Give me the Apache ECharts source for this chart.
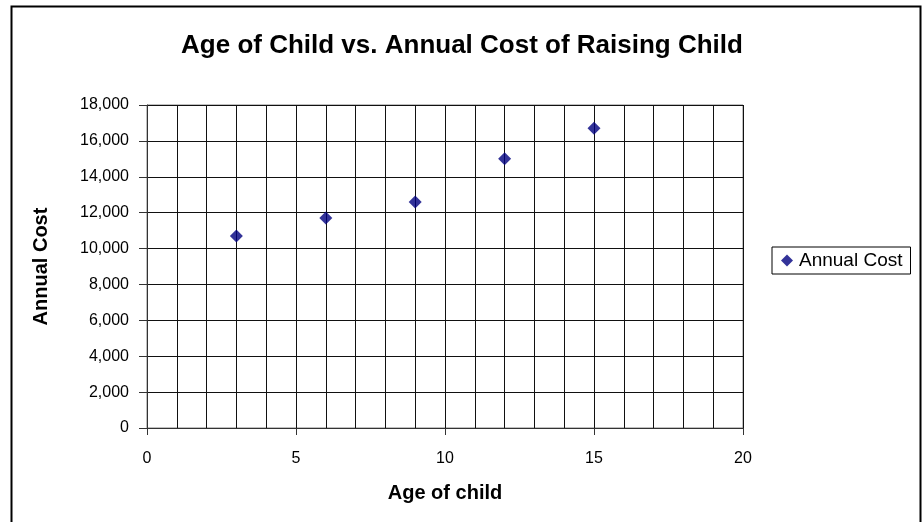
<!DOCTYPE html>
<html>
<head>
<meta charset="utf-8">
<script src="https://cdn.jsdelivr.net/npm/echarts@6/dist/echarts.min.js"></script>
<style>
  html, body { margin: 0; padding: 0; background: #fff; }
  #chart { width: 924px; height: 522px; }
</style>
</head>
<body>
<div id="chart"></div>
<script>
// Age of child (years) and the yearly cost of raising the child
const ages = [3, 6, 9, 12, 15];
const annualCost = [10700, 11700, 12600, 15000, 16700];
const seriesName = 'Annual Cost';
const chartTitle = 'Age of Child vs. Annual Cost of Raising Child';
const xAxisName = 'Age of child';
const yAxisName = 'Annual Cost';

const points = ages.map((a, i) => [a, annualCost[i]]);
const font = 'Liberation Sans, Arial, sans-serif';

const chart = echarts.init(document.getElementById('chart'), null, { renderer: 'canvas' });

chart.setOption({
  backgroundColor: '#fff',
  animation: false,
  textStyle: { fontFamily: font, color: '#000' },
  title: {
    text: chartTitle,
    left: 'center',
    top: 28,
    textStyle: { fontFamily: font, fontSize: 26, fontWeight: 'bold', color: '#000' }
  },
  graphic: [{
    type: 'rect',
    left: 9, top: 4,
    shape: { width: 909, height: 540 },
    style: { fill: 'none', stroke: '#000', lineWidth: 2 },
    silent: true,
    z: 100
  }],
  legend: {
    left: 772,
    top: 247,
    orient: 'vertical',
    padding: [4, 8, 4, 9],
    borderColor: '#000',
    borderWidth: 1,
    itemWidth: 12,
    itemHeight: 12,
    itemGap: 4,
    textStyle: { fontFamily: font, fontSize: 19, color: '#000', padding: [0, 0, 0, 1] },
    data: [{ name: seriesName, icon: 'diamond' }]
  },
  grid: {
    left: 147, right: 181, top: 105, bottom: 94,
    show: true,
    borderColor: '#808080',
    borderWidth: 1
  },
  xAxis: {
    type: 'value',
    min: 0, max: 20, interval: 5,
    name: xAxisName,
    nameLocation: 'middle',
    nameGap: 55,
    nameTextStyle: { fontFamily: font, fontSize: 20, fontWeight: 'bold', color: '#000' },
    axisLine: { show: true, lineStyle: { color: '#333', width: 1 } },
    axisTick: { show: true, inside: false, length: 7, lineStyle: { color: '#333' } },
    axisLabel: { fontFamily: font, fontSize: 16, color: '#000', margin: 23 },
    splitLine: { show: true, lineStyle: { color: '#111', width: 1 } },
    minorTick: { show: false, splitNumber: 5 },
    minorSplitLine: { show: true, lineStyle: { color: '#111', width: 1 } }
  },
  yAxis: {
    type: 'value',
    min: 0, max: 18000, interval: 2000,
    name: yAxisName,
    nameLocation: 'middle',
    nameGap: 96,
    nameRotate: 90,
    nameTextStyle: { fontFamily: font, fontSize: 20, fontWeight: 'bold', color: '#000' },
    axisLine: { show: true, lineStyle: { color: '#333', width: 1 } },
    axisTick: { show: true, inside: false, length: 8, lineStyle: { color: '#333' } },
    axisLabel: {
      fontFamily: font, fontSize: 16, color: '#000', margin: 18,
      formatter: v => v.toLocaleString('en-US')
    },
    splitLine: { show: true, lineStyle: { color: '#111', width: 1 } }
  },
  series: [{
    name: seriesName,
    type: 'scatter',
    symbol: 'diamond',
    symbolSize: 13,
    itemStyle: { color: '#000080' },
    data: points
  }]
});
</script>
</body>
</html>
